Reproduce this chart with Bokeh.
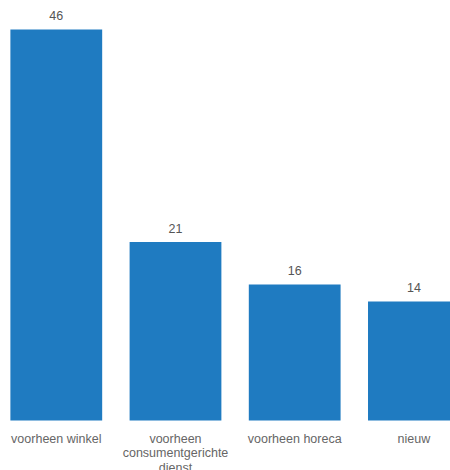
from bokeh.plotting import figure
from bokeh.models import ColumnDataSource, Range1d
from bokeh.core.properties import value
from bokeh.embed import file_html
from bokeh.resources import INLINE

categories = ["voorheen winkel", "voorheen\nconsumentgerichte\ndienst", "voorheen horeca", "nieuw"]
counts = [46, 21, 16, 14]
positions = list(range(len(categories)))

src = ColumnDataSource(dict(
    x=positions,
    top=counts,
    cat=categories,
    lbl=[str(c) for c in counts],
    zero=[0] * len(counts),
))

p = figure(width=450, height=470, output_backend="svg", toolbar_location=None,
           x_range=Range1d(-0.468, 3.307), y_range=Range1d(-5.88, 49.41),
           min_border=0, min_border_left=0, min_border_right=0,
           min_border_top=0, min_border_bottom=0)
p.outline_line_color = None
p.axis.visible = False
p.grid.visible = False
p.background_fill_color = "white"
p.border_fill_color = "white"

p.vbar(x="x", top="top", bottom=0, width=0.77, source=src,
       fill_color="#1f7bc1", line_color=None)

p.text(x="x", y="top", text="lbl", source=src, text_align="center",
       text_baseline="middle", y_offset=-14, text_font=value("Liberation Sans"),
       text_font_size="12.5px", text_color="#555555")

p.text(x="x", y="zero", text="cat", source=src, text_align="center",
       text_baseline="top", y_offset=11, text_font=value("Liberation Sans"),
       text_font_size="12.5px", text_color="#666666", text_line_height=1.06)

open("out.html", "w").write(file_html(p, INLINE))
